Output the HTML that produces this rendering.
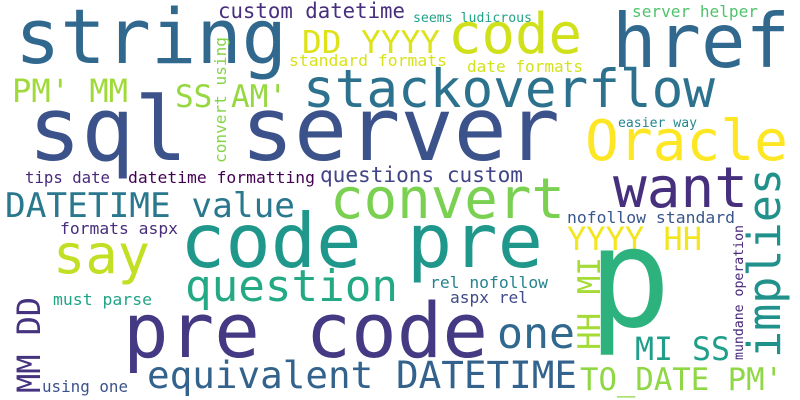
<!DOCTYPE html>
<html><head><meta charset="utf-8"><style>
html,body{margin:0;padding:0;background:#fff;}
svg{display:block;}
text{font-family:"DejaVu Sans Mono","Liberation Mono",monospace;}
</style></head><body>
<svg width="800" height="400" viewBox="0 0 800 400" xmlns="http://www.w3.org/2000/svg">
<rect width="800" height="400" fill="#ffffff"/>
<g lengthAdjust="spacingAndGlyphs">
<text x="15" y="63" font-size="76" fill="#31688e" textLength="272" lengthAdjust="spacingAndGlyphs">string</text>
<text x="218" y="18" font-size="21" fill="#472f7d" textLength="187" lengthAdjust="spacingAndGlyphs">custom datetime</text>
<text x="302" y="53" font-size="31" fill="#dde318" textLength="138" lengthAdjust="spacingAndGlyphs">DD YYYY</text>
<text x="289" y="66" font-size="16" fill="#d8e219" textLength="158" lengthAdjust="spacingAndGlyphs">standard formats</text>
<text transform="translate(226,163) rotate(-90)" font-size="16" fill="#86d549" textLength="126" lengthAdjust="spacingAndGlyphs">convert using</text>
<text x="12" y="102" font-size="32" fill="#a0da39" textLength="116" lengthAdjust="spacingAndGlyphs">PM' MM</text>
<text x="175" y="107" font-size="31" fill="#95d840" textLength="112" lengthAdjust="spacingAndGlyphs">SS AM'</text>
<text x="28" y="160" font-size="88" fill="#3b528b" textLength="532" lengthAdjust="spacingAndGlyphs">sql server</text>
<text x="25" y="183" font-size="16" fill="#482878" textLength="85" lengthAdjust="spacingAndGlyphs">tips date</text>
<text x="128" y="183" font-size="16" fill="#440154" textLength="187" lengthAdjust="spacingAndGlyphs">datetime formatting</text>
<text x="320" y="182" font-size="21" fill="#414487" textLength="203" lengthAdjust="spacingAndGlyphs">questions custom</text>
<text x="5" y="217" font-size="34" fill="#2a788e" textLength="290" lengthAdjust="spacingAndGlyphs">DATETIME value</text>
<text x="413" y="22" font-size="13" fill="#20a386" textLength="119" lengthAdjust="spacingAndGlyphs">seems ludicrous</text>
<text x="448" y="53" font-size="56" fill="#d0e11c" textLength="134" lengthAdjust="spacingAndGlyphs">code</text>
<text x="612" y="67" font-size="75" fill="#31688e" textLength="178" lengthAdjust="spacingAndGlyphs">href</text>
<text x="632" y="17" font-size="16" fill="#4ec36b" textLength="126" lengthAdjust="spacingAndGlyphs">server helper</text>
<text x="467" y="72" font-size="16" fill="#d2e21b" textLength="116" lengthAdjust="spacingAndGlyphs">date formats</text>
<text x="303" y="107" font-size="53" fill="#2c728e" textLength="412" lengthAdjust="spacingAndGlyphs">stackoverflow</text>
<text x="618" y="127" font-size="13" fill="#25858e" textLength="79" lengthAdjust="spacingAndGlyphs">easier way</text>
<text x="585" y="160" font-size="56" fill="#fde725" textLength="203" lengthAdjust="spacingAndGlyphs">Oracle</text>
<text x="613" y="207" font-size="56" fill="#46307e" textLength="135" lengthAdjust="spacingAndGlyphs">want</text>
<text transform="translate(780,358) rotate(-90)" font-size="45" fill="#21918c" textLength="190" lengthAdjust="spacingAndGlyphs">implies</text>
<text x="330" y="218" font-size="56" fill="#7ad151" textLength="235" lengthAdjust="spacingAndGlyphs">convert</text>
<text x="180" y="267" font-size="75" fill="#1f988b" textLength="363" lengthAdjust="spacingAndGlyphs">code pre</text>
<text x="60" y="234" font-size="16" fill="#472d7b" textLength="118" lengthAdjust="spacingAndGlyphs">formats aspx</text>
<text x="53" y="273" font-size="54" fill="#c2df23" textLength="97" lengthAdjust="spacingAndGlyphs">say</text>
<text x="185" y="301" font-size="44" fill="#23a983" textLength="213" lengthAdjust="spacingAndGlyphs">question</text>
<text transform="translate(40,393) rotate(-90)" font-size="32" fill="#46337f" textLength="96" lengthAdjust="spacingAndGlyphs">MM DD</text>
<text x="53" y="305" font-size="16" fill="#20a486" textLength="99" lengthAdjust="spacingAndGlyphs">must parse</text>
<text x="123" y="357" font-size="76" fill="#443983" textLength="365" lengthAdjust="spacingAndGlyphs">pre code</text>
<text x="147" y="388" font-size="37" fill="#33638d" textLength="430" lengthAdjust="spacingAndGlyphs">equivalent DATETIME</text>
<text x="42" y="392" font-size="16" fill="#3b528b" textLength="86" lengthAdjust="spacingAndGlyphs">using one</text>
<text x="567" y="223" font-size="16" fill="#39568c" textLength="168" lengthAdjust="spacingAndGlyphs">nofollow standard</text>
<text x="567" y="250" font-size="32" fill="#f4e61e" textLength="135" lengthAdjust="spacingAndGlyphs">YYYY HH</text>
<text transform="translate(600,350) rotate(-90)" font-size="31" fill="#a5db36" textLength="93" lengthAdjust="spacingAndGlyphs">HH MI</text>
<text x="588" y="326" font-size="138" fill="#2db27d">p</text>
<text x="430" y="288" font-size="16" fill="#25838e" textLength="118" lengthAdjust="spacingAndGlyphs">rel nofollow</text>
<text x="450" y="303" font-size="16" fill="#3e4a89" textLength="78" lengthAdjust="spacingAndGlyphs">aspx rel</text>
<text x="497" y="348" font-size="43" fill="#31688e" textLength="78" lengthAdjust="spacingAndGlyphs">one</text>
<text x="635" y="360" font-size="32" fill="#1f9e89" textLength="95" lengthAdjust="spacingAndGlyphs">MI SS</text>
<text transform="translate(743,360) rotate(-90)" font-size="13" fill="#482878" textLength="135" lengthAdjust="spacingAndGlyphs">mundane operation</text>
<text x="580" y="390" font-size="31" fill="#8fd744" textLength="203" lengthAdjust="spacingAndGlyphs">TO_DATE PM'</text>
</g>
</svg>
</body></html>
